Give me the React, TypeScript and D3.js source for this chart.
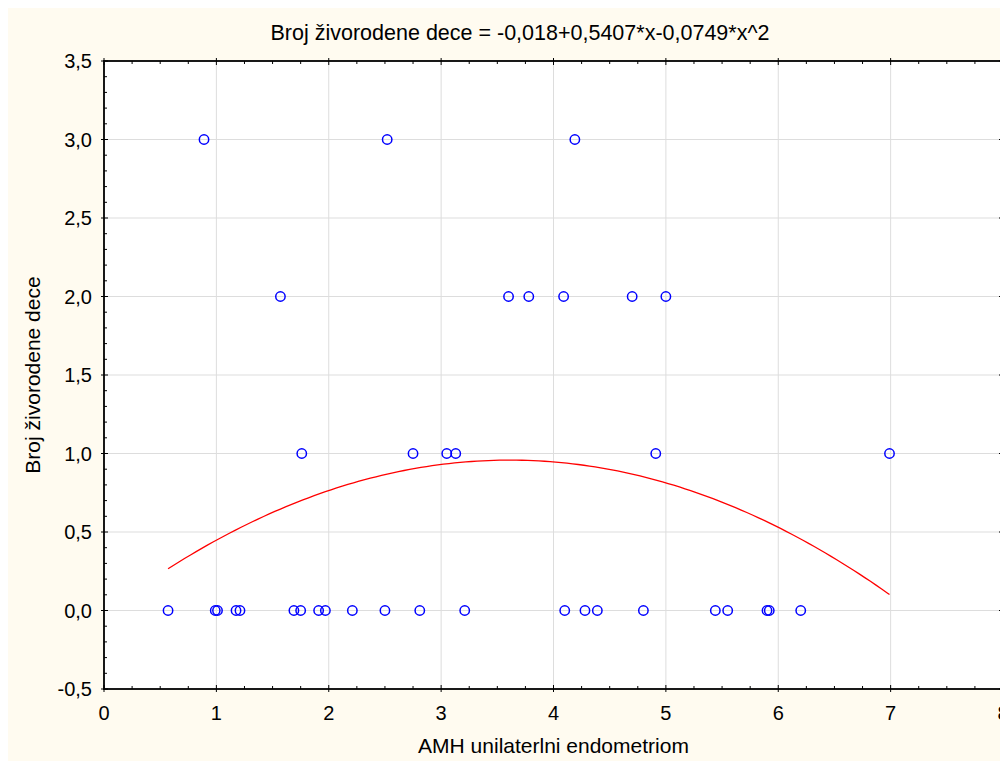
import React from "react";
import * as d3 from "d3";

// AMH values (x) and number of live-born children (y)
const pointsAt3 = [0.89, 2.52, 4.19];
const pointsAt2 = [1.57, 3.6, 3.78, 4.09, 4.7, 5.0];
const pointsAt1 = [1.76, 2.75, 3.05, 3.13, 4.91, 6.99];
const pointsAt0 = [
  0.57, 0.99, 1.01, 1.175, 1.21, 1.69, 1.75, 1.91, 1.97, 2.21, 2.5, 2.81,
  3.21, 4.1, 4.28, 4.39, 4.8, 5.44, 5.55, 5.9, 5.92, 6.2,
];

// quadratic fit from the title: b0 + b1*x + b2*x^2
const fitCoef = [-0.018, 0.5407, -0.0749];
const fitRange = [0.57, 6.99];

const xTicks = [0, 1, 2, 3, 4, 5, 6, 7, 8];
const yTicks = [-0.5, 0, 0.5, 1, 1.5, 2, 2.5, 3, 3.5];

const title = "Broj živorodene dece = -0,018+0,5407*x-0,0749*x^2";
const xLabel = "AMH unilaterlni endometriom";
const yLabel = "Broj živorodene dece";

const App = () => {
  const width = 1000;
  const height = 753;
  const margin = { top: 53, right: 5, bottom: 72, left: 96 };
  const font = "'Liberation Sans', Arial, sans-serif";
  const fs = 20;

  const x = d3
    .scaleLinear()
    .domain([0, 8])
    .range([margin.left, width - margin.right]);
  const y = d3
    .scaleLinear()
    .domain([-0.5, 3.5])
    .range([height - margin.bottom, margin.top]);

  const data = [
    ...pointsAt3.map((v) => ({ x: v, y: 3 })),
    ...pointsAt2.map((v) => ({ x: v, y: 2 })),
    ...pointsAt1.map((v) => ({ x: v, y: 1 })),
    ...pointsAt0.map((v) => ({ x: v, y: 0 })),
  ];

  const fit = (v: number) => fitCoef[0] + fitCoef[1] * v + fitCoef[2] * v * v;
  const curveX = d3.range(fitRange[0], fitRange[1], 0.05).concat([fitRange[1]]);
  const line = d3
    .line<number>()
    .x((d) => x(d))
    .y((d) => y(fit(d)));

  const x0 = x.range()[0];
  const x1 = x.range()[1];
  const y0 = y.range()[0];
  const y1 = y.range()[1];

  // minor ticks: 0.25 on x, 0.1 on y
  const xMinor = d3.range(0, 8.001, 0.25).filter((v) => v % 1 !== 0);
  const yMinor = d3
    .range(-0.5, 3.5001, 0.1)
    .filter((v) => Math.abs(v * 2 - Math.round(v * 2)) > 0.01);

  return (
    <svg width={width} height={height} style={{ display: "block" }}>
      <rect width={width} height={height} fill="#fffbf0" />
      <rect x={x0} y={y1} width={x1 - x0} height={y0 - y1} fill="#ffffff" />

      {/* grid */}
      {xTicks.slice(1, -1).map((t) => (
        <line key={"gx" + t} x1={x(t)} x2={x(t)} y1={y1} y2={y0} stroke="#dddddd" strokeWidth={1} />
      ))}
      {yTicks.slice(1, -1).map((t) => (
        <line key={"gy" + t} x1={x0} x2={x1} y1={y(t)} y2={y(t)} stroke="#dddddd" strokeWidth={1} />
      ))}

      {/* fit curve */}
      <path d={line(curveX) ?? ""} fill="none" stroke="#ff0000" strokeWidth={1.3} />

      {/* points */}
      {data.map((d, i) => (
        <circle key={i} cx={x(d.x)} cy={y(d.y)} r={4.7} fill="none" stroke="#0000ff" strokeWidth={1.5} />
      ))}

      {/* ticks */}
      <g stroke="#000" strokeWidth={1}>
        {xMinor.map((t) => (
          <g key={"xm" + t}>
            <line x1={x(t)} x2={x(t)} y1={y0} y2={y0 - 3} />
            <line x1={x(t)} x2={x(t)} y1={y1} y2={y1 + 3} />
          </g>
        ))}
        {xTicks.map((t) => (
          <g key={"xt" + t}>
            <line x1={x(t)} x2={x(t)} y1={y0 + 3} y2={y0 - 4} />
            <line x1={x(t)} x2={x(t)} y1={y1 - 3} y2={y1 + 4} />
          </g>
        ))}
        {yMinor.map((t) => (
          <g key={"ym" + t}>
            <line x1={x0} x2={x0 + 3} y1={y(t)} y2={y(t)} />
            <line x1={x1} x2={x1 - 3} y1={y(t)} y2={y(t)} />
          </g>
        ))}
        {yTicks.map((t) => (
          <g key={"yt" + t}>
            <line x1={x0 - 3} x2={x0 + 4} y1={y(t)} y2={y(t)} />
            <line x1={x1 + 3} x2={x1 - 4} y1={y(t)} y2={y(t)} />
          </g>
        ))}
      </g>

      {/* frame */}
      <rect x={x0} y={y1} width={x1 - x0} height={y0 - y1} fill="none" stroke="#000" strokeWidth={1.8} />

      {/* tick labels */}
      <g fontFamily={font} fontSize={fs} fill="#000">
        {xTicks.map((t) => (
          <text key={"xl" + t} x={x(t)} y={y0 + 31} textAnchor="middle">
            {t}
          </text>
        ))}
        {yTicks.map((t) => (
          <text key={"yl" + t} x={x0 - 12} y={y(t)} dy="0.35em" textAnchor="end">
            {t.toFixed(1).replace(".", ",")}
          </text>
        ))}
      </g>

      <text x={512} y={32} textAnchor="middle" fontFamily={font} fontSize={21.5}>
        {title}
      </text>
      <text x={(x0 + x1) / 2} y={745} textAnchor="middle" fontFamily={font} fontSize={21}>
        {xLabel}
      </text>
      <text
        transform={`translate(32,${(y0 + y1) / 2}) rotate(-90)`}
        textAnchor="middle"
        fontFamily={font}
        fontSize={21}
      >
        {yLabel}
      </text>
    </svg>
  );
};

export default App;
